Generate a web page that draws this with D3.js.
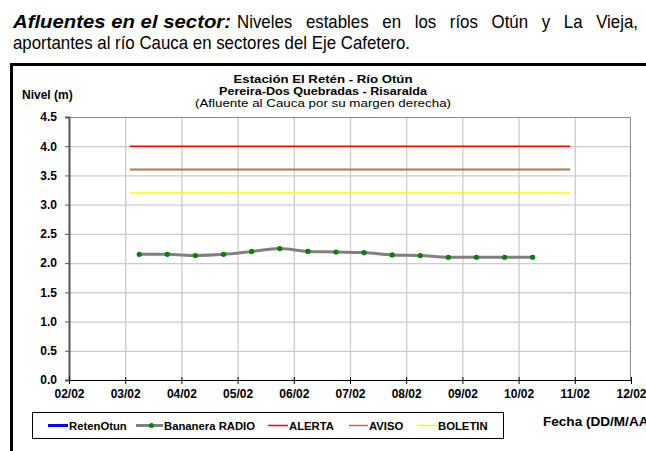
<!DOCTYPE html>
<html>
<head>
<meta charset="utf-8">
<script src="https://cdn.jsdelivr.net/npm/d3@7"></script>
<style>
  body { margin: 0; background: #fff; }
  svg { display: block; }
  text { font-family: "Liberation Sans", Arial, sans-serif; }
</style>
</head>
<body>
<div id="chart"></div>
<script>
// Datos
const fechas = ["2011-02-03T06:00", "2011-02-03T18:00", "2011-02-04T06:00", "2011-02-04T18:00",
  "2011-02-05T06:00", "2011-02-05T18:00", "2011-02-06T06:00", "2011-02-06T18:00",
  "2011-02-07T06:00", "2011-02-07T18:00", "2011-02-08T06:00", "2011-02-08T18:00",
  "2011-02-09T06:00", "2011-02-09T18:00", "2011-02-10T06:00"];
const bananera = [2.15, 2.15, 2.13, 2.15, 2.20, 2.25, 2.20, 2.19, 2.18, 2.14, 2.13, 2.10, 2.10, 2.10, 2.10];

const umbralNombres = ["ALERTA", "AVISO", "BOLETIN"];
const umbralValores = [4.0, 3.6, 3.2];
const umbralFechas = ["2011-02-03T02:00", "2011-02-10T22:00"];

const legendNames = ["RetenOtun", "Bananera RADIO", "ALERTA", "AVISO", "BOLETIN"];
const yTicks = [0, 0.5, 1.0, 1.5, 2.0, 2.5, 3.0, 3.5, 4.0, 4.5];

const titulos = ["Estación El Retén - Río Otún", "Pereira-Dos Quebradas - Risaralda", "(Afluente al Cauca por su margen derecha)"];
const encabezadoNegrita = "Afluentes en el sector:";
const encabezado1 = "Niveles estables en los ríos Otún y La Vieja,";
const encabezado2 = "aportantes al río Cauca en sectores del Eje Cafetero.";

const colors = { RetenOtun: "#0000ff", "Bananera RADIO": "#808080", ALERTA: "#ff0000", AVISO: "#a67c52", BOLETIN: "#ffff00" };

const parse = d3.timeParse("%Y-%m-%dT%H:%M");
const W = 646, H = 451;

const svg = d3.select("#chart").append("svg")
    .attr("width", W)
    .attr("height", H);

// encabezado (fuente estrecha simulada con textLength)
svg.append("text")
    .attr("x", 13).attr("y", 28)
    .style("font-size", "19px").style("font-weight", "bold").style("font-style", "italic")
    .attr("textLength", 218).attr("lengthAdjust", "spacingAndGlyphs")
    .text(encabezadoNegrita);

const l2 = svg.append("text")
    .attr("x", 13).attr("y", 49)
    .style("font-size", "19px")
    .text(encabezado2);
const nat2 = l2.node().getComputedTextLength();
const squeeze = 397 / nat2;
l2.attr("textLength", 397).attr("lengthAdjust", "spacingAndGlyphs");

// linea 1 justificada palabra por palabra
const palabras = encabezado1.split(" ");
const wg = svg.append("g");
const anchos = palabras.map(p => {
  const t = wg.append("text").attr("y", 28).style("font-size", "19px").text(p);
  const w = t.node().getComputedTextLength() * squeeze;
  t.attr("textLength", w).attr("lengthAdjust", "spacingAndGlyphs");
  return w;
});
const gap = (638 - 237 - d3.sum(anchos)) / (palabras.length - 1);
let cx = 237;
wg.selectAll("text").each(function(d, i) {
  d3.select(this).attr("x", cx);
  cx += anchos[i] + gap;
});

// marco
svg.append("rect").attr("x", 10).attr("y", 63).attr("width", W - 10).attr("height", 3).attr("fill", "#000");
svg.append("rect").attr("x", 10).attr("y", 63).attr("width", 3).attr("height", H - 63).attr("fill", "#000");

const x = d3.scaleTime()
    .domain([parse("2011-02-02T00:00"), parse("2011-02-12T00:00")])
    .range([69, 631]);
const y = d3.scaleLinear()
    .domain([0, 4.5])
    .range([380, 117]);

const xTicks = d3.timeDay.range(parse("2011-02-02T00:00"), parse("2011-02-12T01:00"));

// rejilla
svg.append("g").selectAll("line").data(yTicks.slice(1, -1)).join("line")
    .attr("x1", 69).attr("x2", 631)
    .attr("y1", d => y(d) + 0.5).attr("y2", d => y(d) + 0.5)
    .attr("stroke", "#cccccc").attr("stroke-width", 1.3);
svg.append("g").selectAll("line").data(xTicks.slice(1, -1)).join("line")
    .attr("x1", d => x(d) + 0.5).attr("x2", d => x(d) + 0.5)
    .attr("y1", 117).attr("y2", 380)
    .attr("stroke", "#cccccc").attr("stroke-width", 1.3);

// borde del area
svg.append("path")
    .attr("d", `M69.5,117.5H630.5V380`)
    .attr("fill", "none").attr("stroke", "#888").attr("stroke-width", 1);

// umbrales
umbralNombres.forEach((n, i) => {
  svg.append("line")
    .attr("x1", x(parse(umbralFechas[0]))).attr("x2", x(parse(umbralFechas[1])))
    .attr("y1", y(umbralValores[i])).attr("y2", y(umbralValores[i]))
    .attr("stroke", colors[n]).attr("stroke-width", n === "AVISO" ? 2 : 1.6);
});

// serie Bananera
const serie = fechas.map((f, i) => ({ fecha: parse(f), nivel: bananera[i] }));
svg.append("path")
    .datum(serie)
    .attr("fill", "none")
    .attr("stroke", colors["Bananera RADIO"])
    .attr("stroke-width", 3)
    .attr("d", d3.line().x(d => x(d.fecha)).y(d => y(d.nivel)).curve(d3.curveMonotoneX));
svg.append("g").selectAll("circle").data(serie).join("circle")
    .attr("cx", d => x(d.fecha)).attr("cy", d => y(d.nivel))
    .attr("r", 2.6).attr("fill", "#008000");

// ejes
const yAxis = svg.append("g")
    .attr("transform", "translate(69,0)")
    .call(d3.axisLeft(y).tickValues(yTicks).tickFormat(d3.format(".1f")).tickSize(4).tickPadding(8));
yAxis.select(".domain").attr("stroke", "#555").attr("stroke-width", 2);
yAxis.selectAll(".tick line").attr("stroke", "#555");

const xAxis = svg.append("g")
    .attr("transform", "translate(0,380)")
    .call(d3.axisBottom(x).tickValues(xTicks).tickFormat(d3.timeFormat("%d/%m")).tickSizeOuter(0).tickSize(4).tickPadding(5));
xAxis.select(".domain").attr("stroke", "#000");
xAxis.selectAll(".tick line").attr("y1", -3).attr("stroke", "#000");

svg.selectAll(".tick text")
    .style("font-size", "12px").style("font-weight", "bold")
    .style("font-family", "'Liberation Sans', Arial, sans-serif").attr("fill", "#000");

// titulos
const titY = [83, 95, 106.5];
const titW = [179, 208, 256];
const tit = svg.append("g").style("font-size", "10.3px").attr("text-anchor", "middle");
titulos.forEach((t, i) => {
  tit.append("text").attr("x", 323).attr("y", titY[i])
    .style("font-weight", i < 2 ? "bold" : "normal")
    .attr("textLength", titW[i]).attr("lengthAdjust", "spacingAndGlyphs")
    .text(t);
});

svg.append("text").attr("x", 22).attr("y", 99)
    .style("font-size", "12px").style("font-weight", "bold").text("Nivel (m)");

svg.append("text").attr("x", 543).attr("y", 426)
    .style("font-size", "12px").style("font-weight", "bold")
    .attr("textLength", 110).attr("lengthAdjust", "spacingAndGlyphs")
    .text("Fecha (DD/M/AA)");

// leyenda
const leg = svg.append("g");
leg.append("rect").attr("x", 32.5).attr("y", 412.5).attr("width", 471).attr("height", 26)
    .attr("fill", "#fff").attr("stroke", "#000");
const legX = [48, 136, 268, 349, 417];
const legW = [20, 27, 20, 19, 20];
legendNames.forEach((n, i) => {
  const g = leg.append("g");
  g.append("line").attr("x1", legX[i]).attr("x2", legX[i] + legW[i])
    .attr("y1", 425.5).attr("y2", 425.5)
    .attr("stroke", colors[n])
    .attr("stroke-width", i < 2 ? 3 : 1.5);
  if (n === "Bananera RADIO") {
    g.append("circle").attr("cx", legX[i] + legW[i] / 2 + 2).attr("cy", 425.5).attr("r", 2.5).attr("fill", "#008000");
  }
  g.append("text").attr("x", legX[i] + legW[i] + 1).attr("y", 429.5)
    .style("font-size", "11.3px").style("font-weight", "bold").text(n);
});
</script>
</body>
</html>
